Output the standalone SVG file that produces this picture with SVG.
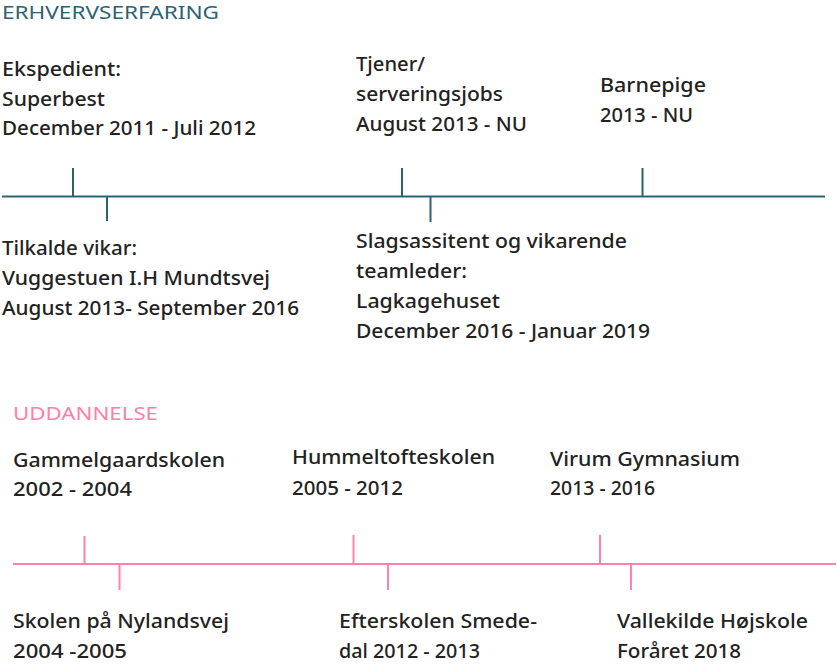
<svg xmlns="http://www.w3.org/2000/svg" width="837" height="665" viewBox="0 0 837 665">
<style>
text{font-family:"Noto Sans","Open Sans","Liberation Sans",sans-serif;font-size:19px;font-weight:500;fill:#222}
.h1{fill:#2e6272;font-size:18px;font-weight:400}
.h2{fill:#ff7eab;font-size:18px;font-weight:400}
.t{stroke:#2e6272;stroke-width:2;fill:none}
.p{stroke:#ff82ad;stroke-width:2;fill:none}
</style>
<rect width="837" height="665" fill="#fff"/>
<g id="connectors">
<path class="t" d="M2 196.5 L825 196.5 M73 168 V196 M107 197 V221 M402 168 V196 M430.5 197 V222 M642.5 168 V196"/>
<path class="p" d="M13 564 L836 564 M84.5 536 V564 M119.5 564 V590 M353.5 535 V564 M388 564 V590 M600 535 V564 M631 564 V590"/>
</g>
<g id="title-erhverv"><text class="h1" x="2" y="19" textLength="217" lengthAdjust="spacingAndGlyphs">ERHVERVSERFARING</text></g>
<g id="n-ekspedient">
<text x="2" y="76" textLength="119" lengthAdjust="spacingAndGlyphs">Ekspedient:</text>
<text x="2" y="106" textLength="103" lengthAdjust="spacingAndGlyphs">Superbest</text>
<text x="2" y="135" textLength="254" lengthAdjust="spacingAndGlyphs">December 2011 - Juli 2012</text>
</g>
<g id="n-tjener">
<text x="356" y="71" textLength="69" lengthAdjust="spacingAndGlyphs">Tjener/</text>
<text x="356" y="101" textLength="147" lengthAdjust="spacingAndGlyphs">serveringsjobs</text>
<text x="356" y="130.5" textLength="171" lengthAdjust="spacingAndGlyphs">August 2013 - NU</text>
</g>
<g id="n-barnepige">
<text x="600" y="92" textLength="106" lengthAdjust="spacingAndGlyphs">Barnepige</text>
<text x="600" y="122" textLength="93" lengthAdjust="spacingAndGlyphs">2013 - NU</text>
</g>
<g id="n-tilkalde">
<text x="2" y="255" textLength="135" lengthAdjust="spacingAndGlyphs">Tilkalde vikar:</text>
<text x="2" y="285" textLength="268" lengthAdjust="spacingAndGlyphs">Vuggestuen I.H Mundtsvej</text>
<text x="2" y="315" textLength="297" lengthAdjust="spacingAndGlyphs">August 2013- September 2016</text>
</g>
<g id="n-slagsassitent">
<text x="356" y="248" textLength="271" lengthAdjust="spacingAndGlyphs">Slagsassitent og vikarende</text>
<text x="356" y="278" textLength="111" lengthAdjust="spacingAndGlyphs">teamleder:</text>
<text x="356" y="308" textLength="144" lengthAdjust="spacingAndGlyphs">Lagkagehuset</text>
<text x="356" y="338" textLength="294" lengthAdjust="spacingAndGlyphs">December 2016 - Januar 2019</text>
</g>
<g id="title-uddannelse"><text class="h2" x="13" y="420" textLength="145" lengthAdjust="spacingAndGlyphs">UDDANNELSE</text></g>
<g id="n-gammelgaard">
<text x="13" y="467" textLength="212" lengthAdjust="spacingAndGlyphs">Gammelgaardskolen</text>
<text x="13" y="496" textLength="119" lengthAdjust="spacingAndGlyphs">2002 - 2004</text>
</g>
<g id="n-hummeltofte">
<text x="292" y="464" textLength="203" lengthAdjust="spacingAndGlyphs">Hummeltofteskolen</text>
<text x="292" y="495" textLength="111" lengthAdjust="spacingAndGlyphs">2005 - 2012</text>
</g>
<g id="n-virum">
<text x="550" y="466" textLength="190" lengthAdjust="spacingAndGlyphs">Virum Gymnasium</text>
<text x="550" y="495" textLength="105" lengthAdjust="spacingAndGlyphs">2013 - 2016</text>
</g>
<g id="n-nylandsvej">
<text x="13" y="628" textLength="216" lengthAdjust="spacingAndGlyphs">Skolen på Nylandsvej</text>
<text x="13" y="658" textLength="114" lengthAdjust="spacingAndGlyphs">2004 -2005</text>
</g>
<g id="n-efterskolen">
<text x="339" y="628" textLength="198" lengthAdjust="spacingAndGlyphs">Efterskolen Smede-</text>
<text x="339" y="658" textLength="141" lengthAdjust="spacingAndGlyphs">dal 2012 - 2013</text>
</g>
<g id="n-vallekilde">
<text x="617" y="628" textLength="191" lengthAdjust="spacingAndGlyphs">Vallekilde Højskole</text>
<text x="617" y="658" textLength="124" lengthAdjust="spacingAndGlyphs">Foråret 2018</text>
</g>
</svg>
